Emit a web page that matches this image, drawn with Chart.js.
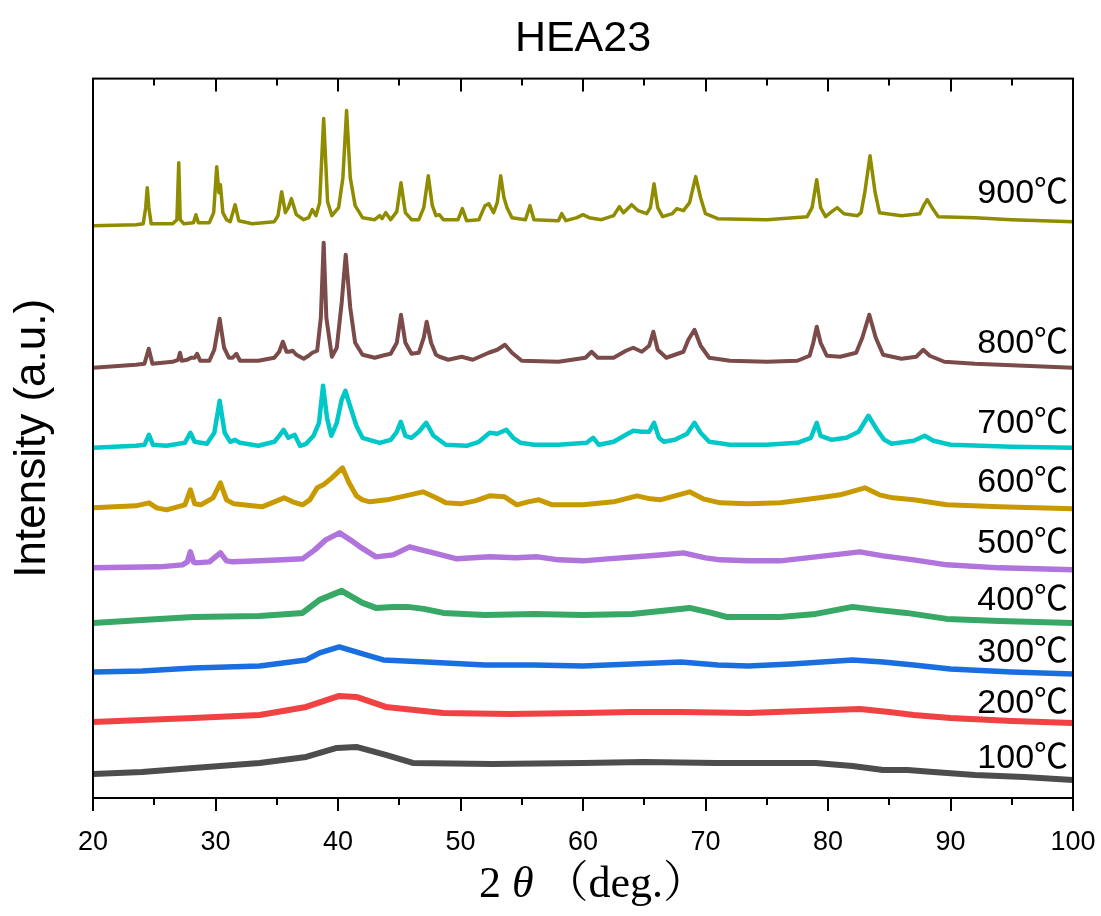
<!DOCTYPE html>
<html><head><meta charset="utf-8">
<script src="https://cdn.jsdelivr.net/npm/chart.js@4/dist/chart.umd.min.js"></script>
<style>html,body{margin:0;padding:0;background:#fff;}#wrap{width:1101px;height:916px;}</style>
</head><body><div id="wrap"><canvas id="c" width="1101" height="916"></canvas></div>
<script>
// ---- data (2θ in degrees, stacked intensity in a.u.) ----
const chartTitle = 'HEA23';
const xTitle = ['2', 'θ', '（deg.）'];
const yTitle = 'Intensity (a.u.)';
const xTickValues = [20, 30, 40, 50, 60, 70, 80, 90, 100];
const tempLabels = ['100℃', '200℃', '300℃', '400℃', '500℃', '600℃', '700℃', '800℃', '900℃'];
const labelLevels = [30, 85, 136, 188, 245, 306, 365, 445, 595];
const labelPos2theta = 99.6;

const s100 = [[20,24],[24,26],[28.2,30],[33.6,35],[37.4,41],[39.9,50],[41.5,51],[43.9,43],[46.1,35],[52.6,34],[60,35],[65,36],[70.9,35],[75,35],[79,35],[82,32],[84.5,28],[86.5,28],[88.6,26],[92,23],[96,21],[100,18]];
const s200 = [[20,76],[24,78],[28.2,80],[33.6,83],[37.4,91],[40.1,102],[41.5,101],[43.9,91],[48.6,85],[54,84],[60,85],[64,86],[68,86],[73.5,85],[78,87],[82.6,89],[85,86],[87,83],[90,80],[95,77],[100,75]];
const s300 = [[20,126],[24,127],[28.2,130],[33.6,132],[37.4,138],[38.5,145],[40.1,151],[42.3,143],[43.7,138],[47.2,136],[52,133],[56,133],[60,132],[64,134],[68,136],[71,133],[73.5,132],[77,134],[82,138],[84.5,136],[87,133],[90,129],[95,126],[100,124]];
const s400 = [[20,175],[24,178],[28.2,181],[33.6,182],[37.1,185],[38.5,198],[40.3,207],[42,195],[43.1,190],[44.5,191],[45.7,191],[47,189],[48.6,185],[52,183],[56,184],[60,183],[64,184],[68.7,190],[70.5,185],[71.7,181],[76.1,181],[79,184],[82,191],[84,188],[86.4,185],[89.7,179],[94,177],[100,175]];
const s500 = [[20,230],[25.4,231],[27.3,233],[27.7,236],[27.95,246],[28.2,236],[28.4,235],[29.5,236],[30.4,245],[30.9,237],[31.4,236],[33.6,237],[35.5,238],[37.1,239],[38.1,248],[39,258],[40.13,265],[41,258],[41.8,251],[43.1,241],[44.5,243],[45.85,251],[46.8,248],[47.8,245],[49.7,239],[52.4,241],[54.5,240],[56.3,241],[58,238],[60,237],[62,239],[64.4,241],[66.5,243],[68.2,245],[70,240],[71.2,238],[73.5,237],[76.1,237],[79,241],[82.6,246],[84.5,242],[87,238],[89.7,233],[94,230],[100,228]];
const s600 = [[20,290],[23.5,292],[24.57,295],[25.2,290],[26,288],[27.5,293],[27.95,308],[28.3,294],[28.8,293],[29.8,300],[30.4,315],[30.9,298],[31.5,294],[33,292],[33.8,291],[35,297],[35.6,300],[36.3,296],[37.1,293],[37.7,298],[38.3,310],[38.8,313],[39.5,320],[40.36,330],[40.9,315],[41.5,302],[42,298],[42.6,296],[44,298],[45.5,302],[46.94,306],[48,300],[48.8,295],[50,294],[51.2,297],[52.38,302],[53.6,301],[54.6,293],[55.5,296],[56.4,298],[57.5,293],[60,293],[62.5,296],[64.4,302],[65.5,299],[66.3,298],[67.5,302],[68.7,306],[69.8,299],[71.2,295],[73.5,294],[76.1,295],[79.3,300],[81,303],[83,310],[84.2,303],[85.3,300],[87,298],[89.7,293],[94,291],[100,289]];
const s700 = [[20,350],[23.5,352],[24.2,353],[24.57,363],[24.9,353],[26,352],[27.5,355],[27.95,365],[28.3,356],[29.3,354],[29.9,365],[30.34,397],[30.75,365],[31.2,356],[31.6,358],[32,355],[33.5,352],[34.8,356],[35.2,362],[35.56,368],[35.95,360],[36.46,363],[36.9,352],[37.4,354],[38,362],[38.45,375],[38.78,412],[39.1,380],[39.45,362],[39.9,375],[40.3,398],[40.6,407],[40.9,395],[41.5,372],[42,360],[43.4,355],[44.3,358],[44.8,366],[45.12,376],[45.5,362],[46,360],[46.6,366],[47.2,375],[47.8,362],[48.8,353],[50.5,352],[51.5,356],[52.38,365],[53,364],[53.74,368],[54.3,360],[54.9,355],[56,353],[58,353],[60.3,355],[60.84,360],[61.3,353],[62.5,356],[63.5,363],[64.1,367],[64.8,366],[65.4,366],[65.8,375],[66.2,360],[66.6,356],[67.5,358],[68.5,364],[69.1,375],[69.6,365],[70.3,356],[72,353],[75,353],[77.5,355],[78.6,360],[79.08,375],[79.4,362],[80.3,358],[81.5,360],[82.5,366],[83.3,382],[84,368],[84.6,358],[85.2,354],[87,357],[87.9,362],[88.6,357],[90,353],[95,351],[100,350]];
const s800 = [[20,430],[23.5,433],[24.2,434],[24.55,449],[24.85,434],[26.5,436],[26.95,438],[27.1,445],[27.25,437],[27.7,438],[28,440],[28.3,440],[28.5,444],[28.75,437],[29.5,437],[29.9,448],[30.34,479],[30.7,450],[31.1,440],[31.4,440],[31.7,444],[32,437],[33.5,437],[34.8,440],[35.2,446],[35.5,456],[35.8,446],[36,446],[36.3,447],[36.6,443],[37.2,439],[37.6,442],[37.9,445],[38.3,447],[38.6,480],[38.83,555],[39.05,480],[39.5,441],[39.9,450],[40.3,495],[40.63,543],[41,490],[41.4,455],[42,443],[43,440],[43.6,442],[44.3,444],[44.8,455],[45.14,483],[45.5,455],[46,444],[46.6,445],[47,460],[47.24,476],[47.6,455],[48,443],[48.3,441],[49,438],[50.1,441],[51,438],[52.3,445],[53,448],[53.63,453],[54.2,445],[55,437],[58,436],[60.2,440],[60.7,446],[61.2,440],[62.5,440],[63.5,447],[64.1,450],[64.8,446],[65.4,452],[65.74,466],[66.1,448],[66.8,440],[68.2,446],[68.6,458],[69.1,468],[69.6,452],[70.3,440],[72,437],[75,436],[77.5,437],[78.5,442],[78.8,455],[79.08,471],[79.4,455],[79.9,442],[81,441],[82.3,445],[82.8,460],[83.37,483],[83.9,460],[84.5,443],[86,439],[87.2,441],[87.78,448],[88.3,442],[89.5,436],[92,434],[96,432],[100,430]];
const s900 = [[20,572],[23.5,573],[24.1,574],[24.3,590],[24.43,610],[24.56,590],[24.75,574],[26.5,574],[26.85,578],[27,635],[27.12,578],[27.4,574],[28.2,575],[28.4,583],[28.6,575],[29.5,575],[29.85,585],[30.1,631],[30.28,605],[30.4,613],[30.6,585],[30.9,578],[31.2,576],[31.6,593],[31.9,577],[33,574],[34.8,576],[35.1,582],[35.4,606],[35.7,585],[35.95,590],[36.2,599],[36.6,583],[37.2,578],[37.6,580],[37.9,588],[38.2,582],[38.5,595],[38.83,679],[39.15,596],[39.5,582],[40.05,590],[40.4,620],[40.7,687],[41,620],[41.4,592],[42,580],[43,578],[43.4,582],[43.6,579],[43.9,585],[44.3,578],[44.8,586],[45.14,615],[45.5,585],[46,578],[46.6,578],[47,590],[47.37,622],[47.7,592],[48,582],[48.27,583],[48.6,578],[49.8,578],[50.15,589],[50.5,577],[51.5,578],[52,592],[52.3,594],[52.7,585],[53,595],[53.28,622],[53.55,600],[53.8,590],[54.2,580],[55.3,578],[55.67,592],[56,578],[58,577],[58.26,584],[58.6,577],[59.5,580],[60,583],[60.5,580],[61.5,578],[62.5,582],[62.97,591],[63.3,585],[63.97,593],[64.5,587],[65.2,584],[65.5,590],[65.8,614],[66.1,590],[66.5,581],[67.3,584],[67.65,589],[68.2,587],[68.7,595],[69.2,621],[69.6,600],[70,584],[71,579],[75,578],[78.3,581],[78.7,590],[79.08,618],[79.4,590],[79.8,581],[80.3,586],[80.76,590],[81.3,584],[82.4,582],[82.7,585],[83,605],[83.43,642],[83.85,605],[84.2,585],[86,582],[87.5,584],[87.8,592],[88.1,598],[88.5,590],[89,581],[92,580],[95,578],[100,576]];

const seriesData = [s100, s200, s300, s400, s500, s600, s700, s800, s900];
const seriesColors = ['#4d4d4d', '#f04242', '#1a6fe0', '#37a866', '#b074dc', '#c99a00', '#00c8c8', '#7a4b49', '#8f8c00'];
const seriesWidths = [6, 6, 5.5, 6, 5.5, 5, 4.5, 4, 3.5];

const SANS = '"Liberation Sans", "Noto Sans CJK JP", sans-serif';
const SERIF = '"Liberation Serif", "Noto Serif CJK JP", "Noto Sans CJK JP", serif';

const framePlugin = {
  id: 'frame',
  afterDatasetsDraw(chart) {
    const {ctx, chartArea: a, scales: {x, y}} = chart;
    ctx.save();
    ctx.strokeStyle = '#000';
    ctx.lineWidth = 2;
    ctx.strokeRect(a.left, a.top, a.right - a.left, a.bottom - a.top);
    for (let v = 20; v <= 100; v += 5) {
      const px = Math.round(x.getPixelForValue(v));
      const len = (v % 10 === 0) ? 13 : 7;
      ctx.beginPath();
      ctx.moveTo(px, a.bottom); ctx.lineTo(px, a.bottom + len);
      ctx.moveTo(px, a.top); ctx.lineTo(px, a.top + len);
      ctx.stroke();
    }
    // series labels
    ctx.fillStyle = '#000';
    ctx.font = '34px ' + SANS;
    ctx.textAlign = 'right';
    ctx.textBaseline = 'alphabetic';
    const lx = x.getPixelForValue(labelPos2theta);
    tempLabels.forEach((t, i) => ctx.fillText(t, lx, y.getPixelForValue(labelLevels[i])));
    // x title with italic theta
    const parts = [
      {t: xTitle[0], f: '44px ' + SERIF},
      {t: ' ', f: '44px ' + SERIF},
      {t: xTitle[1], f: 'italic 44px ' + SERIF},
      {t: ' ', f: '44px ' + SERIF},
      {t: xTitle[2], f: '44px ' + SERIF}
    ];
    let total = 0;
    parts.forEach(p => { ctx.font = p.f; p.w = ctx.measureText(p.t).width; total += p.w; });
    let cx = x.getPixelForValue(60) - total / 2 + 10;
    ctx.textAlign = 'left';
    parts.forEach(p => { ctx.font = p.f; ctx.fillText(p.t, cx, 897); cx += p.w; });
    ctx.restore();
  }
};

new Chart(document.getElementById('c'), {
  type: 'line',
  data: {
    datasets: seriesData.map((d, i) => ({
      label: tempLabels[i],
      data: d,
      borderColor: seriesColors[i],
      backgroundColor: seriesColors[i],
      borderWidth: seriesWidths[i],
      borderJoinStyle: 'round',
      pointRadius: 0,
      tension: 0,
      fill: false
    }))
  },
  options: {
    responsive: false,
    devicePixelRatio: 1,
    animation: false,
    layout: {padding: {left: 0, right: 28, top: 0, bottom: 0}},
    plugins: {
      legend: {display: false},
      tooltip: {enabled: false},
      title: {
        display: true, text: chartTitle, color: '#000', fullSize: false,
        font: {family: SANS, size: 43, weight: 'normal'},
        padding: {top: 13, bottom: 14}
      }
    },
    scales: {
      x: {
        type: 'linear', position: 'bottom', min: 20, max: 100,
        afterBuildTicks: s => { s.ticks = xTickValues.map(v => ({value: v})); },
        ticks: {color: '#000', font: {family: SANS, size: 27}, padding: 28, maxRotation: 0, autoSkip: false},
        grid: {display: false, drawTicks: false},
        border: {display: false},
        afterFit: s => { s.height = 118; s.paddingLeft = 0; s.paddingRight = 0; }
      },
      y: {
        type: 'linear', min: 0, max: 719,
        ticks: {display: false},
        grid: {display: false, drawTicks: false},
        border: {display: false},
        title: {display: true, text: yTitle, color: '#000', font: {family: SANS, size: 44}, padding: {top: 6, bottom: 0}},
        afterFit: s => { s.width = 93; }
      }
    }
  },
  plugins: [framePlugin]
});
</script></body></html>
